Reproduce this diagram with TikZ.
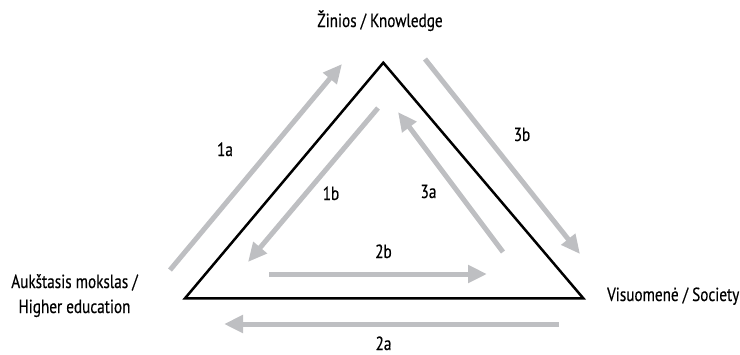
\documentclass[tikz,border=0pt]{standalone}
\usepackage{fontspec}
\setmainfont{PT Sans}[FakeStretch=0.8,FakeBold=0.4]
\usetikzlibrary{arrows.meta}
\definecolor{arrgray}{RGB}{190,191,194}
\tikzset{
  flow/.style={draw=arrgray, line width=5pt, -{Triangle[length=19pt,width=17pt]}},
  lbl/.style={font=\fontsize{19}{25}\selectfont, inner sep=0pt, anchor=base},
  tri/.style={draw=black, line width=2.5pt, line join=miter}
}
\begin{document}
\begin{tikzpicture}[x=1pt,y=-1pt]
\useasboundingbox (0,0) rectangle (740,354);
% triangle vertices
\coordinate (T) at (383.3,62.7);
\coordinate (L) at (185,298.3);
\coordinate (R) at (583.3,298.3);
\draw[tri] (T) -- (L) -- (R) -- cycle;
% arrow endpoints
\coordinate (a1s) at (170,270);   \coordinate (a1e) at (342,64);
\coordinate (b1s) at (378,108);   \coordinate (b1e) at (248,262);
\coordinate (a3s) at (503,252);   \coordinate (a3e) at (398,112);
\coordinate (b3s) at (425,59);    \coordinate (b3e) at (580,254);
\coordinate (b2s) at (269,274);   \coordinate (b2e) at (487,274);
\coordinate (a2s) at (559,324);   \coordinate (a2e) at (224,324);
\draw[flow] (a1s) -- (a1e);
\draw[flow] (b1s) -- (b1e);
\draw[flow] (a3s) -- (a3e);
\draw[flow] (b3s) -- (b3e);
\draw[flow] (b2s) -- (b2e);
\draw[flow] (a2s) -- (a2e);
% labels
\node[lbl] (l1a) at (225,156) {1a};
\node[lbl] (l1b) at (331,200) {1b};
\node[lbl] (l3a) at (428.5,198) {3a};
\node[lbl] (l3b) at (522,141) {3b};
\node[lbl] (l2b) at (383.5,258) {2b};
\node[lbl] (l2a) at (383.5,350) {2a};
\node[lbl] (know) at (380,27) {Žinios / Knowledge};
\node[lbl, align=center] (edu) at (74.5,313) {Aukštasis mokslas /\\Higher education};
\node[lbl, anchor=base east] (soc) at (739.5,301) {Visuomenė / Society};
\end{tikzpicture}
\end{document}
